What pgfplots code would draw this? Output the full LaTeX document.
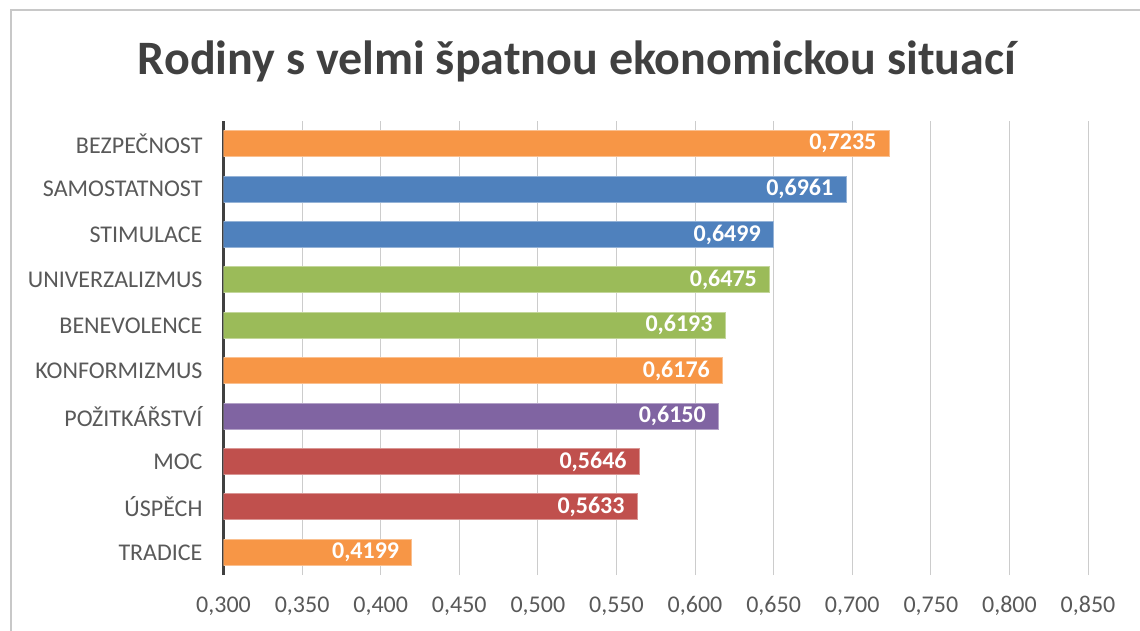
\documentclass[border=0pt]{standalone}
\usepackage{pgfplots}
\pgfplotsset{compat=1.18}
\usepackage{fontspec}
\setmainfont{Carlito}
\definecolor{corange}{HTML}{F79646}
\definecolor{cblue}{HTML}{4F81BD}
\definecolor{cgreen}{HTML}{9BBB59}
\definecolor{cpurple}{HTML}{8064A2}
\definecolor{cred}{HTML}{C0504D}
\definecolor{ctitle}{HTML}{404040}
\definecolor{clabel}{HTML}{595959}
\definecolor{cgrid}{HTML}{CCCCCC}
\definecolor{cframe}{HTML}{C8C8C8}
\definecolor{caxis}{HTML}{404040}
\begin{document}
\begin{tikzpicture}[x=1pt,y=1pt]
\path[use as bounding box] (0,0) rectangle (1140,630);
\draw[cframe, line width=1.5pt] (11,-10) -- (11,620) -- (1150,620);
\node[anchor=base, font=\fontsize{48}{58}\selectfont\bfseries, text=ctitle] at (577,555) {Rodiny s velmi špatnou ekonomickou situací};
\begin{axis}[
  at={(223.5pt,55pt)}, anchor=south west, scale only axis,
  width=864.5pt, height=454pt,
  xmin=0.3, xmax=0.85, ymin=-0.5, ymax=9.5,
  xtick={0.3,0.35,0.4,0.45,0.5,0.55,0.6,0.65,0.7,0.75,0.8,0.85},
  ytick={0,1,2,3,4,5,6,7,8,9},
  yticklabels={TRADICE,ÚSPĚCH,MOC,POŽITKÁŘSTVÍ,KONFORMIZMUS,BENEVOLENCE,UNIVERZALIZMUS,STIMULACE,SAMOSTATNOST,BEZPEČNOST},
  major tick length=0pt,
  axis lines=left,
  x axis line style={draw=none},
  y axis line style={-, line width=3pt, color=caxis},
  xmajorgrids, grid style={cgrid, line width=1pt},
  ticklabel style={font=\fontsize{24}{28}\selectfont, text=clabel},
  xticklabel style={yshift=-18pt, /pgf/number format/.cd, fixed, fixed zerofill, precision=3, use comma, assume math mode=true},
  yticklabel style={xshift=-17.5pt},
  xbar, bar width=26pt, bar shift=0pt,
  nodes near coords={\pgfmathprintnumber[fixed,fixed zerofill,precision=4,use comma,assume math mode=true]{\pgfplotspointmeta}},
  point meta=x,
  every node near coord/.append style={anchor=east, text=white, font=\fontsize{24}{28}\selectfont\bfseries, xshift=-9pt},
]
\addplot[fill=corange, draw=corange!60!white, line width=1pt] coordinates {(0.7235,9) (0.6176,4) (0.4199,0)};
\addplot[fill=cblue, draw=cblue!60!white, line width=1pt] coordinates {(0.6961,8) (0.6499,7)};
\addplot[fill=cgreen, draw=cgreen!60!white, line width=1pt] coordinates {(0.6475,6) (0.6193,5)};
\addplot[fill=cpurple, draw=cpurple!60!white, line width=1pt] coordinates {(0.6150,3)};
\addplot[fill=cred, draw=cred!60!white, line width=1pt] coordinates {(0.5646,2) (0.5633,1)};
\end{axis}
\end{tikzpicture}
\end{document}
